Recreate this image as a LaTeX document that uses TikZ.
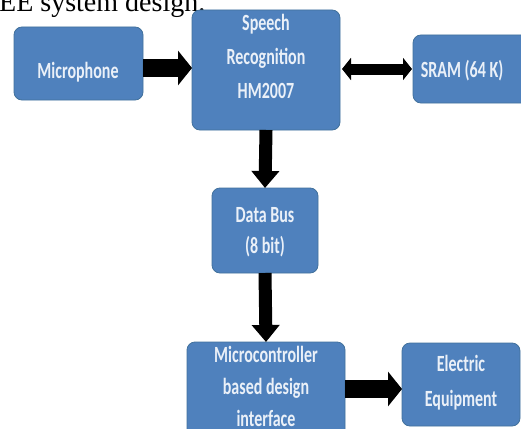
\documentclass[tikz,border=0pt]{standalone}
\usepackage{fontspec}
\usepackage{graphicx}
\setmainfont{Carlito}
\newfontfamily\capfont{Liberation Serif}
\usetikzlibrary{arrows.meta}
\definecolor{boxblue}{HTML}{4F81BD}
\definecolor{boxedge}{HTML}{41719C}
\definecolor{lbltext}{HTML}{EAF0F8}
\newcommand{\lbl}[2]{\scalebox{1}[1.45]{\fontsize{16}{#1}\selectfont\bfseries\begin{tabular}{@{}c@{}}#2\end{tabular}}}
\tikzset{
  box/.style={draw=boxedge, line width=0.8pt, fill=boxblue, rounded corners=8pt, inner sep=0pt, outer sep=0pt},
  lab/.style={text=lbltext, inner sep=0pt},
  bigarrow/.style={line width=18pt, -{Triangle[width=34pt,length=14pt]}},
  downarrow/.style={line width=13pt, -{Triangle[width=27pt,length=17pt]}},
  dblarrow/.style={line width=11pt, {Triangle[width=22pt,length=9pt]}-{Triangle[width=22pt,length=9pt]}}
}
\begin{document}
\begin{tikzpicture}[x=1pt,y=-1pt]
\useasboundingbox (0,0) rectangle (521,428);
\clip (0,0) rectangle (521,428);
\fill[white] (0,0) rectangle (521,428);
\node[anchor=base west, inner sep=0pt, font=\capfont\fontsize{28}{28}\selectfont] (cap) at (-1,12) {EE system design.};
% boxes
\node[box, minimum width=129pt, minimum height=73pt] (mic) at (78.5,63.5) {};
\node[box, minimum width=148pt, minimum height=120pt] (sr) at (266,70) {};
\node[box, minimum width=117pt, minimum height=68pt] (sram) at (471.5,69) {};
\node[box, minimum width=106pt, minimum height=85pt] (db) at (265,230.5) {};
\node[box, minimum width=158pt, minimum height=98pt] (mc) at (266,391) {};
\node[box, minimum width=118pt, minimum height=83pt] (ee) at (461,384.5) {};
% labels
\node[lab] (micT) at (78,73) {\lbl{20}{Microphone}};
\node[lab] (srT) at (266,58) {\lbl{23.5}{Speech\\Recognition\\HM2007}};
\node[lab] (sramT) at (462,72) {\lbl{20}{SRAM (64 K)}};
\node[lab] (dbT) at (265,232) {\lbl{21}{Data Bus\\(8 bit)}};
\node[lab] (mcT) at (266,388) {\lbl{22}{Microcontroller\\based design\\interface}};
\node[lab] (eeT) at (461,382) {\lbl{24}{Electric\\Equipment}};
% arrows
\draw[bigarrow] ([yshift=2pt]mic.east |- sr.west) -- ([yshift=2pt]sr.west);
\draw[dblarrow] ([xshift=2pt]sr.east |- sram.west) -- ([xshift=-1pt]sram.west);
\draw[downarrow] (sr.south) -- (db.north);
\draw[downarrow] (db.south) -- (mc.north);
\draw[bigarrow] ([yshift=2pt]mc.east) -- ([yshift=2pt]mc.east -| ee.west);
\end{tikzpicture}
\end{document}
